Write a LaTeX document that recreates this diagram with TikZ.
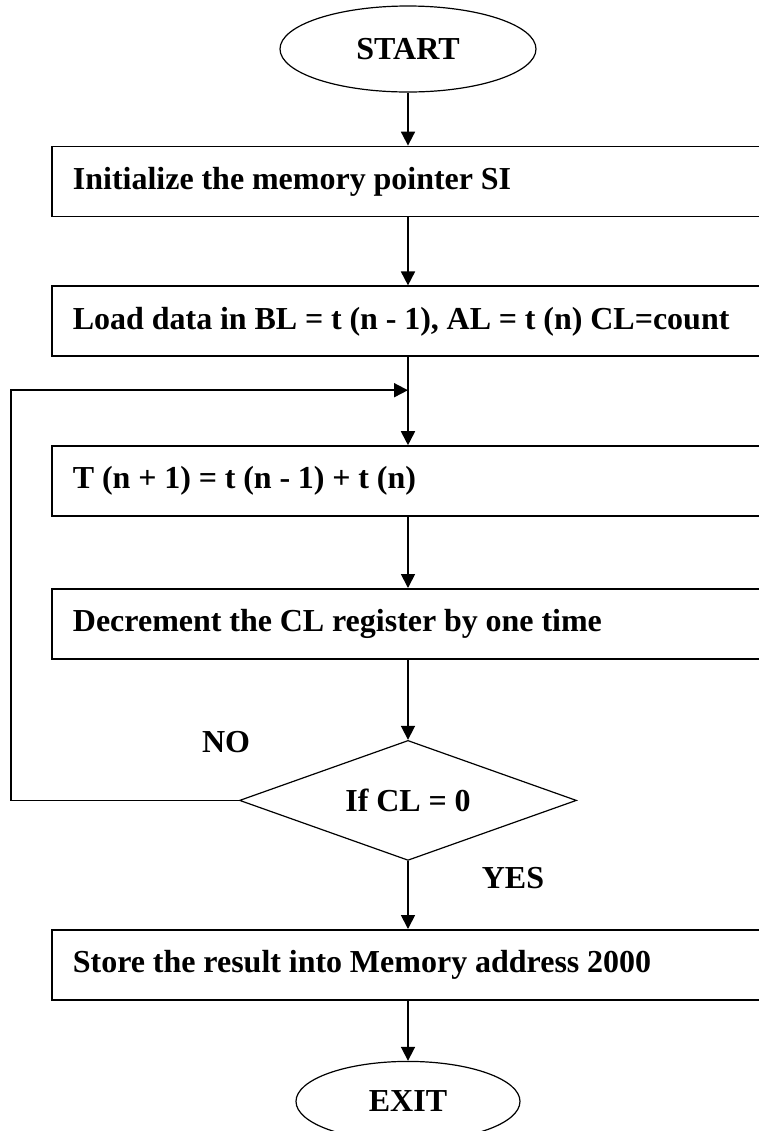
\documentclass[tikz,border=0pt]{standalone}
\usepackage{fontspec}
\setmainfont{Liberation Serif}
\usetikzlibrary{positioning}
\usetikzlibrary{shapes}
\usetikzlibrary{arrows.meta}

\newcommand{\flowfont}{\bfseries\fontsize{16}{19}\selectfont}
\newcommand{\tightspace}{\spaceskip 3.9pt plus 1pt minus 0.5pt\relax}

\begin{document}
\begin{tikzpicture}[
        % Standard style for the flow chart
        line width=0.9pt, >={Triangle[length=7pt,width=7pt]},
        every node/.style={font=\flowfont, execute at begin node=\tightspace},
        terminal/.style={
            draw,
            ellipse,
            line width=0.6pt,
            minimum width=128pt,
            minimum height=43pt,
            inner sep=0pt
        },
        procbox/.style={
            draw,
            rectangle,
            text width=345pt,
            minimum height=35pt,
            align=flush left,
            anchor=north west,
            inner xsep=10.5pt,
            inner ysep=0pt
        },
        decision/.style={
            draw, diamond, line width=0.6pt, aspect=2.8,
            minimum width=168.5pt, minimum height=60pt, inner sep=0pt
        },
        flowlabel/.style={inner sep=0pt}
        ]

        \useasboundingbox (0,0) rectangle (379.5pt,-565.5pt);

        \node [terminal] (start) at (204pt,-24.5pt) {START};
        \coordinate (boxleft) at (25.5pt,0);

        \node [procbox, yshift=-26.5pt] (init) at (boxleft |- start.south) {Initialize the memory pointer SI};
        \draw[->] (start) -- (start |- init.north);

        \node [procbox, yshift=-34pt] (load) at (init.south west) {Load data in BL = t (n - 1), AL = t (n) CL=count};
        \draw[->] (start |- init.south) -- (start |- load.north);
        \coordinate [yshift=-16.5pt] (join) at (start |- load.south);

        \node [procbox, yshift=-44pt] (sum) at (load.south west) {T (n + 1) = t (n - 1) + t (n)};
        \draw[->] (start |- load.south) -- (start |- sum.north);

        \node [procbox, yshift=-35.5pt] (dec) at (sum.south west) {Decrement the CL register by one time};
        \draw[->] (start |- sum.south) -- (start |- dec.north);

        \node [decision, anchor=north, yshift=-40pt] (cond) at (start |- dec.south) {If CL = 0};
        \draw[->] (start |- dec.south) -- (cond);

        \node [procbox, yshift=-34pt] (store) at (boxleft |- cond.south) {Store the result into Memory address 2000};
        \draw[->] (cond) -- (start |- store.north);

        \node [terminal, anchor=north, yshift=-30pt, minimum width=112pt, minimum height=40pt] (exit) at (start |- store.south) {EXIT};
        \draw[->] (start |- store.south) -- (exit);

        % loop back for the NO branch
        \coordinate (leftx) at (5.3pt,0);
        \draw[->] (cond.west) -- (leftx |- cond.west) -- (leftx |- join) -- (join);

        \node [flowlabel, xshift=-91pt, yshift=29pt] (nolabel) at (cond.center) {NO};
        \node [flowlabel, xshift=52.5pt, yshift=-39pt] (yeslabel) at (cond.center) {YES};
\end{tikzpicture}
\end{document}
